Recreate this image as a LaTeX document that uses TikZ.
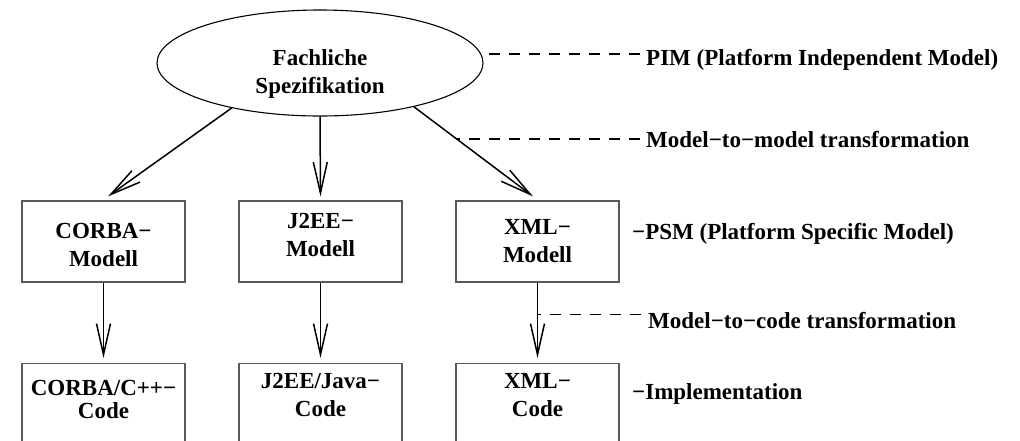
\documentclass[tikz,border=0pt]{standalone}
\usepackage{fontspec}
\setmainfont{Liberation Serif}
\usetikzlibrary{arrows.meta,shapes.geometric,calc}
\begin{document}
\begin{tikzpicture}[x=1pt,y=-1pt,
  every node/.style={font=\fontsize{23}{28}\selectfont\bfseries, inner sep=0pt, align=center},
  boxnode/.style={draw=black!65, line width=1.2pt, minimum width=163pt, minimum height=81pt},
  codebox/.style={draw=black!65, line width=1.2pt, minimum width=163pt, minimum height=110pt, anchor=north},
  arr/.style={-{Straight Barb[length=31pt,width=14pt]}, line width=1.5pt},
  guide/.style={dash pattern=on 11pt off 9pt, line width=1.4pt},
  lbl/.style={anchor=base west, align=left}]
\useasboundingbox (0,0) rectangle (1020,440);
\clip (0,0) rectangle (1020,440);
\fill[white] (0,0) rectangle (1020,440);

% top ellipse
\node[draw, ellipse, line width=1.1pt, minimum width=326pt, minimum height=106pt] (e) at (320,63) {};
\node[anchor=north] (et) at (320,49) {Fachliche\\Spezifikation};

% model boxes
\node[boxnode] (m1) at (103.5,241.5) {};
\node[boxnode] (m2) at (320.5,241.5) {};
\node[boxnode] (m3) at (537.5,241.5) {};
\node[anchor=north] (m1t) at (103.5,223) {CORBA−\\Modell};
\node[anchor=north] (m2t) at (320.5,213) {J2EE−\\Modell};
\node[anchor=north] (m3t) at (537.5,219) {XML−\\Modell};

% code boxes
\node[codebox] (c1) at (103.5,363) {};
\node[codebox] (c2) at (320.5,363) {};
\node[codebox] (c3) at (537.5,363) {};
\node[anchor=north] (c1t) at (103.5,380) {CORBA/C++−\\[-5pt]Code};
\node[anchor=north] (c2t) at (320.5,373) {J2EE/Java−\\Code};
\node[anchor=north] (c3t) at (537.5,373) {XML−\\Code};

% arrows
\draw[arr] (e.207) -- ([xshift=4.5pt,yshift=4pt]m1.north);
\draw[arr] (e.south) -- ([yshift=4pt]m2.north);
\draw[arr] (e.335) -- coordinate[pos=0.36] (mm) ([xshift=-4.5pt,yshift=4pt]m3.north);
\draw[arr] (m1.south) -- ([yshift=5pt]c1.north);
\draw[arr] (m2.south) -- ([yshift=5pt]c2.north);
\draw[arr] (m3.south) -- coordinate[pos=0.42] (mc) ([yshift=5pt]c3.north);

% labels
\node[lbl] (pim) at (646,65) {PIM (Platform Independent Model)};
\node[lbl] (m2m) at (646,147) {Model−to−model transformation};
\node[lbl] (psm) at (632,239) {−PSM (Platform Specific Model)};
\node[lbl] (m2c) at (648,328) {Model−to−code transformation};
\node[lbl] (impl) at (632,399) {−Implementation};

% dashed guide lines
\coordinate (pimEnd) at (640,54);
\coordinate (m2mEnd) at (640,140);
\coordinate (m2cEnd) at (641,314);
\draw[guide] (pimEnd) -- (pimEnd -| e.east);
\draw[guide] (mm -| m2mEnd) -- (mm);
\draw[guide] (mc -| m2cEnd) -- (mc);
\end{tikzpicture}
\end{document}
